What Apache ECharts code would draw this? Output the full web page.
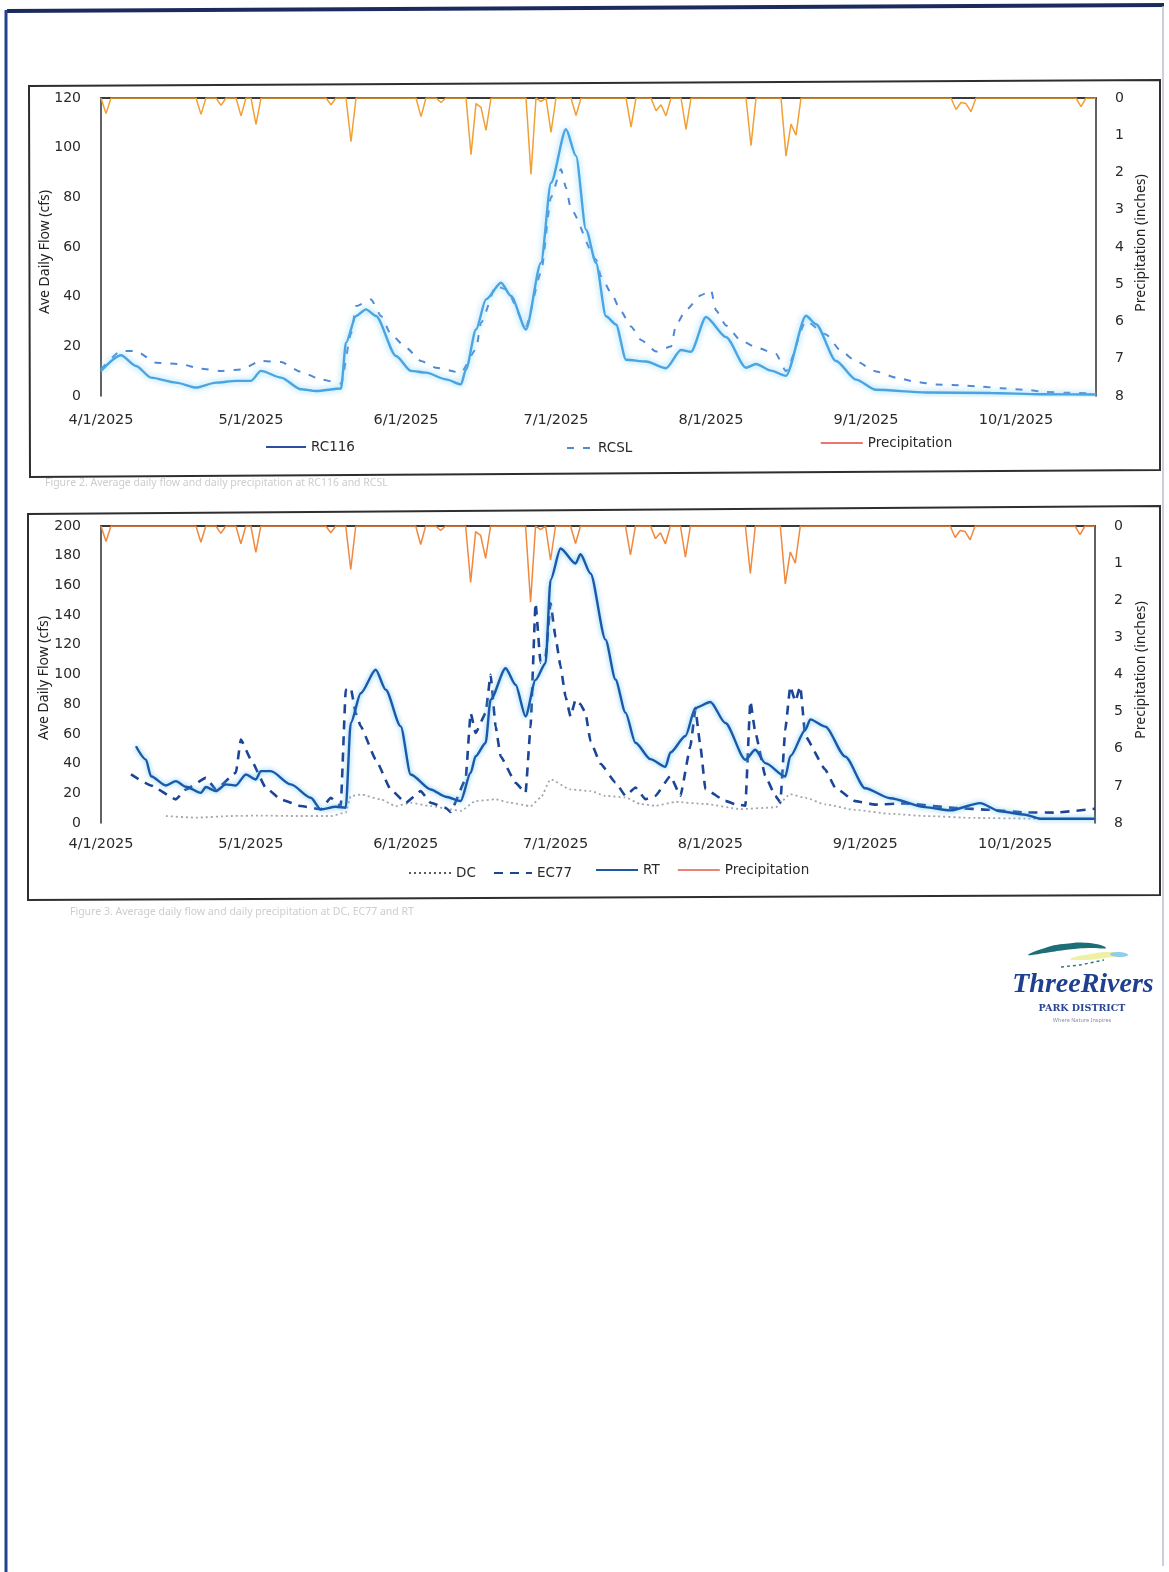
<!DOCTYPE html>
<html>
<head>
<meta charset="utf-8">
<title>Average Daily Flow and Precipitation, 2025</title>
<script src="https://cdn.jsdelivr.net/npm/echarts@6/dist/echarts.min.js"></script>
<style>
  html, body { margin: 0; padding: 0; background: #ffffff; }
  #page { width: 1169px; height: 1572px; }
</style>
</head>
<body>
<div id="page"></div>
<script>
// ---- Monitoring season (daily axis) ----
const seasonStart = [2025, 4, 1];   // year, month, day
const seasonEnd = [2025, 10, 17];
const tickLabels = ['4/1/2025', '5/1/2025', '6/1/2025', '7/1/2025', '8/1/2025', '9/1/2025', '10/1/2025'];

// ---- Daily precipitation (inches); days not listed had no rain ----
const precipEvents = [
  ['4/2', 0.42], ['4/21', 0.44], ['4/25', 0.2], ['4/29', 0.48], ['5/2', 0.71],
  ['5/17', 0.18], ['5/21', 1.17], ['6/4', 0.5], ['6/8', 0.12], ['6/14', 1.52],
  ['6/15', 0.15], ['6/16', 0.25], ['6/17', 0.87], ['6/26', 2.05], ['6/28', 0.1],
  ['6/30', 0.92], ['7/5', 0.47], ['7/16', 0.78], ['7/21', 0.34], ['7/22', 0.18],
  ['7/23', 0.48], ['7/27', 0.84], ['8/9', 1.28], ['8/16', 1.56], ['8/17', 0.7],
  ['8/18', 1.0], ['9/19', 0.31], ['9/20', 0.12], ['9/21', 0.15], ['9/22', 0.37],
  ['10/14', 0.23]
];

// ---- Upper chart: average daily flow (cfs) ----
const rc116 = [
  ['4/1', 10.1], ['4/5', 16.4], ['4/8', 12.1], ['4/11', 7.4], ['4/16', 5.4], ['4/20', 3.4],
  ['4/24', 5.4], ['4/28', 6.1], ['5/1', 6.1], ['5/3', 10.1], ['5/7', 7.4], ['5/11', 2.7],
  ['5/14', 2.0], ['5/19', 3.0], ['5/20', 21.5], ['5/22', 32.2], ['5/24', 34.9], ['5/26', 32.2],
  ['5/30', 16.1], ['6/2', 10.1], ['6/5', 9.4], ['6/9', 6.7], ['6/12', 4.7], ['6/13', 10.7],
  ['6/15', 26.8], ['6/17', 38.9], ['6/20', 45.6], ['6/22', 40.3], ['6/25', 26.8], ['6/28', 53.7],
  ['6/30', 85.9], ['7/3', 107.4], ['7/5', 96.7], ['7/7', 67.0], ['7/9', 53.6], ['7/11', 32.1],
  ['7/13', 28.8], ['7/15', 14.6], ['7/19', 13.9], ['7/23', 11.2], ['7/26', 18.5], ['7/28', 17.8],
  ['7/31', 31.8], ['8/4', 23.7], ['8/8', 11.4], ['8/10', 12.9], ['8/13', 10.2], ['8/16', 8.1],
  ['8/20', 32.3], ['8/22', 28.9], ['8/26', 14.1], ['8/30', 6.6], ['9/3', 2.5], ['9/13', 1.4],
  ['9/26', 1.2], ['10/6', 0.7], ['10/17', 0.6]
];
const rcsl = [
  ['4/1', 10.7], ['4/5', 18.1], ['4/8', 18.1], ['4/12', 13.4], ['4/17', 12.8], ['4/21', 11.0],
  ['4/25', 10.1], ['4/29', 10.7], ['5/3', 14.1], ['5/7', 13.7], ['5/11', 9.7], ['5/15', 6.7],
  ['5/19', 5.0], ['5/21', 25.0], ['5/22', 36.2], ['5/25', 38.9], ['5/27', 32.2], ['5/29', 24.8],
  ['6/1', 19.5], ['6/4', 14.1], ['6/7', 11.4], ['6/12', 9.4], ['6/15', 18.8], ['6/16', 29.5],
  ['6/19', 44.3], ['6/21', 43.0], ['6/25', 28.2], ['6/28', 49.7], ['6/30', 80.0], ['7/2', 91.3],
  ['7/3', 83.9], ['7/4', 75.2], ['7/9', 55.0], ['7/10', 48.2], ['7/12', 41.6], ['7/14', 34.1],
  ['7/16', 28.0], ['7/18', 22.6], ['7/21', 17.9], ['7/24', 19.9], ['7/25', 28.6], ['7/27', 34.6],
  ['7/30', 40.6], ['8/1', 42.6], ['8/2', 34.5], ['8/4', 28.4], ['8/7', 22.3], ['8/10', 19.6],
  ['8/14', 16.9], ['8/16', 10.0], ['8/20', 30.2], ['8/24', 24.8], ['8/27', 18.1], ['8/30', 14.0],
  ['9/3', 9.9], ['9/7', 7.4], ['9/11', 5.7], ['9/15', 4.6], ['9/20', 4.3], ['9/24', 3.8],
  ['9/28', 3.1], ['10/3', 2.5], ['10/7', 1.6], ['10/11', 1.3], ['10/17', 1.0]
];

// ---- Lower chart: average daily flow (cfs) ----
const dc = [
  ['4/14', 4.7], ['4/20', 3.6], ['4/27', 4.7], ['5/3', 5.0], ['5/10', 4.7], ['5/17', 4.7],
  ['5/20', 7.0], ['5/21', 18.1], ['5/23', 19.2], ['5/27', 15.9], ['5/30', 11.4], ['6/2', 13.6],
  ['6/6', 11.4], ['6/10', 9.2], ['6/12', 8.1], ['6/15', 14.8], ['6/19', 15.9], ['6/22', 13.6],
  ['6/26', 11.4], ['6/28', 17.0], ['6/30', 29.3], ['7/4', 22.6], ['7/8', 21.5], ['7/11', 18.3],
  ['7/15', 17.2], ['7/18', 12.8], ['7/21', 11.6], ['7/25', 14.2], ['7/31', 12.8], ['8/7', 9.4],
  ['8/14', 10.5], ['8/17', 19.4], ['8/20', 17.0], ['8/24', 12.5], ['8/30', 8.8], ['9/6', 6.2],
  ['9/13', 4.7], ['9/23', 3.4], ['10/3', 3.0], ['10/17', 2.9]
];
const ec77 = [
  ['4/7', 32.7], ['4/11', 25.3], ['4/16', 15.9], ['4/18', 22.6], ['4/22', 30.4], ['4/24', 22.6],
  ['4/28', 33.8], ['4/29', 56.2], ['5/1', 42.8], ['5/4', 23.7], ['5/7', 15.9], ['5/11', 11.4],
  ['5/15', 9.2], ['5/17', 17.0], ['5/19', 11.4], ['5/20', 89.7], ['5/21', 91.0], ['5/22', 74.0],
  ['5/23', 65.1], ['5/26', 42.8], ['5/29', 22.6], ['6/1', 13.6], ['6/4', 21.5], ['6/6', 13.6],
  ['6/9', 10.3], ['6/10', 7.4], ['6/13', 29.3], ['6/14', 74.0], ['6/15', 60.6], ['6/17', 74.0],
  ['6/18', 99.8], ['6/19', 65.1], ['6/20', 45.0], ['6/23', 27.0], ['6/25', 20.3], ['6/26', 65.0],
  ['6/27', 148.0], ['6/28', 108.0], ['6/29', 112.0], ['6/30', 148.0], ['7/1', 125.0], ['7/2', 105.4],
  ['7/3', 85.2], ['7/4', 71.8], ['7/5', 83.0], ['7/6', 80.0], ['7/7', 74.0], ['7/8', 55.0],
  ['7/10', 40.0], ['7/13', 27.3], ['7/15', 18.3], ['7/17', 23.9], ['7/19', 16.0], ['7/21', 18.3],
  ['7/24', 31.7], ['7/26', 18.3], ['7/28', 51.8], ['7/29', 76.5], ['7/30', 51.8], ['7/31', 22.8],
  ['8/4', 14.9], ['8/6', 12.7], ['8/8', 11.6], ['8/9', 82.0], ['8/10', 61.0], ['8/12', 31.7],
  ['8/14', 18.3], ['8/15', 13.9], ['8/16', 63.0], ['8/17', 92.0], ['8/18', 82.0], ['8/19', 92.0],
  ['8/20', 58.5], ['8/24', 36.0], ['8/26', 23.8], ['8/30', 14.7], ['9/3', 12.4], ['9/9', 13.2],
  ['9/19', 10.1], ['9/26', 8.9], ['10/3', 7.1], ['10/9', 7.0], ['10/17', 9.6]
];
const rt = [
  ['4/8', 51.7], ['4/10', 42.7], ['4/11', 31.5], ['4/14', 25.3], ['4/16', 28.2], ['4/18', 24.4],
  ['4/21', 20.3], ['4/22', 24.2], ['4/24', 21.5], ['4/26', 26.0], ['4/28', 25.3], ['4/30', 32.7],
  ['5/2', 29.3], ['5/3', 34.9], ['5/5', 34.9], ['5/9', 26.0], ['5/13', 17.0], ['5/15', 9.2],
  ['5/18', 10.9], ['5/20', 10.3], ['5/21', 67.3], ['5/23', 87.4], ['5/26', 103.2], ['5/28', 89.7],
  ['5/31', 65.1], ['6/2', 32.7], ['6/6', 22.6], ['6/9', 17.7], ['6/12', 14.8], ['6/14', 33.8],
  ['6/15', 45.0], ['6/17', 53.9], ['6/18', 83.0], ['6/21', 104.2], ['6/23', 93.1], ['6/25', 71.8],
  ['6/27', 96.4], ['6/29', 107.6], ['6/30', 163.6], ['7/2', 184.8], ['7/5', 174.7], ['7/6', 181.0],
  ['7/8', 168.0], ['7/11', 123.5], ['7/13', 96.6], ['7/15', 74.3], ['7/17', 54.0], ['7/20', 43.0],
  ['7/23', 37.8], ['7/24', 47.5], ['7/27', 58.6], ['7/29', 77.5], ['8/1', 81.5], ['8/4', 67.3],
  ['8/8', 42.6], ['8/10', 49.3], ['8/12', 40.3], ['8/16', 31.3], ['8/17', 45.0], ['8/20', 62.6],
  ['8/21', 69.8], ['8/24', 64.9], ['8/28', 44.7], ['9/1', 23.4], ['9/6', 16.7], ['9/13', 10.7],
  ['9/18', 8.5], ['9/24', 13.4], ['9/28', 7.9], ['10/3', 5.6], ['10/6', 2.9], ['10/17', 2.9]
];

// ---- Build the daily category axis ----
const days = [];
(function () {
  const d = new Date(seasonStart[0], seasonStart[1] - 1, seasonStart[2]);
  const end = new Date(seasonEnd[0], seasonEnd[1] - 1, seasonEnd[2]);
  while (d <= end) {
    days.push((d.getMonth() + 1) + '/' + d.getDate() + '/' + d.getFullYear());
    d.setDate(d.getDate() + 1);
  }
})();
const tickSet = new Set(tickLabels);
const withYear = (rows) => rows.map(([md, v]) => [md + '/2025', v]);
const precipLookup = new Map(withYear(precipEvents));
const precipDaily = days.map((day) => [day, precipLookup.has(day) ? precipLookup.get(day) : 0]);

const FONT = 'DejaVu Sans';
const NAME_FONT = 'Noto Sans';
const AXIS_COLOR = '#3a3a3a';

function bottomAxis(gridIndex, margin) {
  return {
    type: 'category', gridIndex, data: days, boundaryGap: false, position: 'bottom',
    axisLine: { show: false }, axisTick: { show: false }, splitLine: { show: false },
    axisLabel: {
      interval: (i, v) => tickSet.has(v), margin,
      fontFamily: FONT, fontSize: 14.5, color: '#2a2a2a'
    }
  };
}
function topAxis(gridIndex) {
  return {
    type: 'category', gridIndex, data: days, boundaryGap: false, position: 'top',
    axisLine: { show: true, lineStyle: { color: AXIS_COLOR, width: 1.8 } },
    axisTick: { show: false }, axisLabel: { show: false }, splitLine: { show: false }
  };
}
function flowAxis(gridIndex, max) {
  return {
    type: 'value', gridIndex, min: 0, max, interval: 20, position: 'left',
    axisLine: { show: true, lineStyle: { color: AXIS_COLOR, width: 1.6 } },
    axisTick: { show: false }, splitLine: { show: false },
    axisLabel: { margin: 20, fontFamily: FONT, fontSize: 14, color: '#2a2a2a' }
  };
}
function precipAxis(gridIndex) {
  return {
    type: 'value', gridIndex, min: 0, max: 8, interval: 1, inverse: true, position: 'right',
    axisLine: { show: true, lineStyle: { color: AXIS_COLOR, width: 1.6 } },
    axisTick: { show: false }, splitLine: { show: false },
    axisLabel: { margin: 19, fontFamily: FONT, fontSize: 14, color: '#2a2a2a' }
  };
}

const flowLine = (name, data, x, y, style, smooth) => ({
  name, type: 'line', xAxisIndex: x, yAxisIndex: y, data: withYear(data),
  symbol: 'none', showSymbol: false, smooth, smoothMonotone: 'x',
  lineStyle: style, itemStyle: { color: style.color }, z: 3
});
const precipLine = (x, y, color) => ({
  name: 'Precipitation', type: 'line', xAxisIndex: x, yAxisIndex: y, data: precipDaily,
  symbol: 'none', showSymbol: false,
  lineStyle: { color, width: 1.5 }, itemStyle: { color }, z: 4
});

// legend entries show the line sample only (no marker)
const legendText = { fontFamily: FONT, fontSize: 13.5, color: '#2a2a2a' };
const legendItem = (entry, left, top, width) => ({
  data: [entry], left, top, itemWidth: width, itemHeight: 12, itemGap: 0, padding: 0,
  itemStyle: { opacity: 0, borderWidth: 0 },
  textStyle: legendText, selectedMode: false
});

const chart = echarts.init(document.getElementById('page'), null, { renderer: 'canvas', width: 1169, height: 1572 });

chart.setOption({
  backgroundColor: '#ffffff',
  animation: false,
  grid: [
    { left: 101, top: 98, width: 995, height: 298 },
    { left: 101, top: 526, width: 994, height: 297 }
  ],
  xAxis: [bottomAxis(0, 17), topAxis(0), bottomAxis(1, 14), topAxis(1)],
  yAxis: [flowAxis(0, 120), precipAxis(0), flowAxis(1, 200), precipAxis(1)],
  legend: [
    legendItem({ name: 'RC116', lineStyle: { color: '#2b4fa3', shadowBlur: 0 } }, 265, 440, 40),
    legendItem({ name: 'RCSL' }, 566, 441, 26),
    legendItem({ name: 'Precipitation', lineStyle: { color: '#e04a3c', width: 1.6 } }, 820, 436, 42),
    legendItem({ name: 'DC', lineStyle: { color: '#555b66' } }, 408, 866, 42),
    legendItem({ name: 'EC77' }, 493, 866, 38),
    legendItem({ name: 'RT', lineStyle: { shadowBlur: 0 } }, 595, 863, 42),
    legendItem({ name: 'Precipitation', lineStyle: { color: '#e2584a', width: 1.6 } }, 677, 863, 42)
  ],
  series: [
    precipLine(0, 1, '#f0a034'),
    flowLine('RCSL', rcsl, 0, 0, { color: '#4f88d6', width: 2, type: [7, 9], cap: 'butt' }, 0.2),
    flowLine('RC116', rc116, 0, 0, {
      color: '#4aa4e0', width: 2.4, shadowColor: 'rgba(120,205,245,1)', shadowBlur: 6
    }, 0.25),
    precipLine(2, 3, '#f0883e'),
    flowLine('DC', dc, 2, 2, { color: '#a2a6b0', width: 1.8, type: [2, 3] }, 0.2),
    flowLine('EC77', ec77, 2, 2, { color: '#1b4596', width: 2.6, type: [9, 7] }, 0.12),
    flowLine('RT', rt, 2, 2, {
      color: '#1c58a8', width: 2.4, shadowColor: 'rgba(95,195,245,0.95)', shadowBlur: 5
    }, 0.25)
  ],
  graphic: [
    // page frame
    { type: 'line', shape: { x1: 7, y1: 11, x2: 1164, y2: 5 }, style: { stroke: '#1b2b5e', lineWidth: 4 } },
    { type: 'line', shape: { x1: 6, y1: 10, x2: 6, y2: 1572 }, style: { stroke: '#24428c', lineWidth: 3 } },
    { type: 'line', shape: { x1: 1163, y1: 6, x2: 1163, y2: 1566 }, style: { stroke: '#b8bfcc', lineWidth: 1.5 } },
    // chart boxes
    { type: 'polygon', shape: { points: [[29, 86], [1160, 80], [1160, 470], [30, 477]] },
      style: { fill: 'none', stroke: '#2e2e2e', lineWidth: 2 } },
    { type: 'polygon', shape: { points: [[28, 514], [1160, 506], [1160, 895], [28, 900]] },
      style: { fill: 'none', stroke: '#2e2e2e', lineWidth: 2 } },
    // axis titles
    { type: 'text', x: 45, y: 252, rotation: Math.PI / 2,
      style: { text: 'Ave Daily Flow (cfs)', fontFamily: NAME_FONT, fontSize: 14, fill: '#222', align: 'center', verticalAlign: 'middle' } },
    { type: 'text', x: 1141, y: 243, rotation: Math.PI / 2,
      style: { text: 'Precipitation (inches)', fontFamily: NAME_FONT, fontSize: 14, fill: '#222', align: 'center', verticalAlign: 'middle' } },
    { type: 'text', x: 44, y: 678, rotation: Math.PI / 2,
      style: { text: 'Ave Daily Flow (cfs)', fontFamily: NAME_FONT, fontSize: 14, fill: '#222', align: 'center', verticalAlign: 'middle' } },
    { type: 'text', x: 1141, y: 670, rotation: Math.PI / 2,
      style: { text: 'Precipitation (inches)', fontFamily: NAME_FONT, fontSize: 14, fill: '#222', align: 'center', verticalAlign: 'middle' } },
    // figure captions
    { type: 'text', x: 45, y: 483,
      style: { text: 'Figure 2. Average daily flow and daily precipitation at RC116 and RCSL', fontFamily: NAME_FONT, fontSize: 10.5, fill: '#cdcdcd', verticalAlign: 'middle' } },
    { type: 'text', x: 70, y: 912,
      style: { text: 'Figure 3. Average daily flow and daily precipitation at DC, EC77 and RT', fontFamily: NAME_FONT, fontSize: 10.5, fill: '#cdcdcd', verticalAlign: 'middle' } },
    // Three Rivers Park District logo
    { type: 'polygon', shape: { smooth: 0.5, points: [[1028, 955], [1045, 948], [1063, 944], [1090, 943], [1106, 948], [1088, 948], [1065, 950], [1045, 953]] },
      style: { fill: '#1d6e76' } },
    { type: 'polygon', shape: { smooth: 0.5, points: [[1070, 959], [1090, 954], [1112, 952], [1122, 955], [1105, 958], [1085, 960]] },
      style: { fill: '#eef0a4' } },
    { type: 'polygon', shape: { smooth: 0.5, points: [[1110, 954], [1120, 952], [1128, 955], [1118, 957]] },
      style: { fill: '#90cdec' } },
    { type: 'polyline', shape: { points: [[1061, 967], [1080, 965], [1104, 960]] },
      style: { stroke: '#2b7a82', lineWidth: 1.5, lineDash: [3, 3] } },
    { type: 'text', x: 1083, y: 985,
      style: { text: 'ThreeRivers', fontFamily: 'Liberation Serif', fontStyle: 'italic', fontWeight: 'bold', fontSize: 28, fill: '#1f3f8f', align: 'center', verticalAlign: 'middle' } },
    { type: 'text', x: 1082, y: 1009,
      style: { text: 'PARK DISTRICT', fontFamily: 'DejaVu Serif', fontWeight: 'bold', fontSize: 9.5, fill: '#2a4592', align: 'center', verticalAlign: 'middle' } },
    { type: 'text', x: 1082, y: 1020,
      style: { text: 'Where Nature Inspires', fontFamily: NAME_FONT, fontSize: 5.5, fill: '#8c90a8', align: 'center', verticalAlign: 'middle' } }
  ]
});
</script>
</body>
</html>
